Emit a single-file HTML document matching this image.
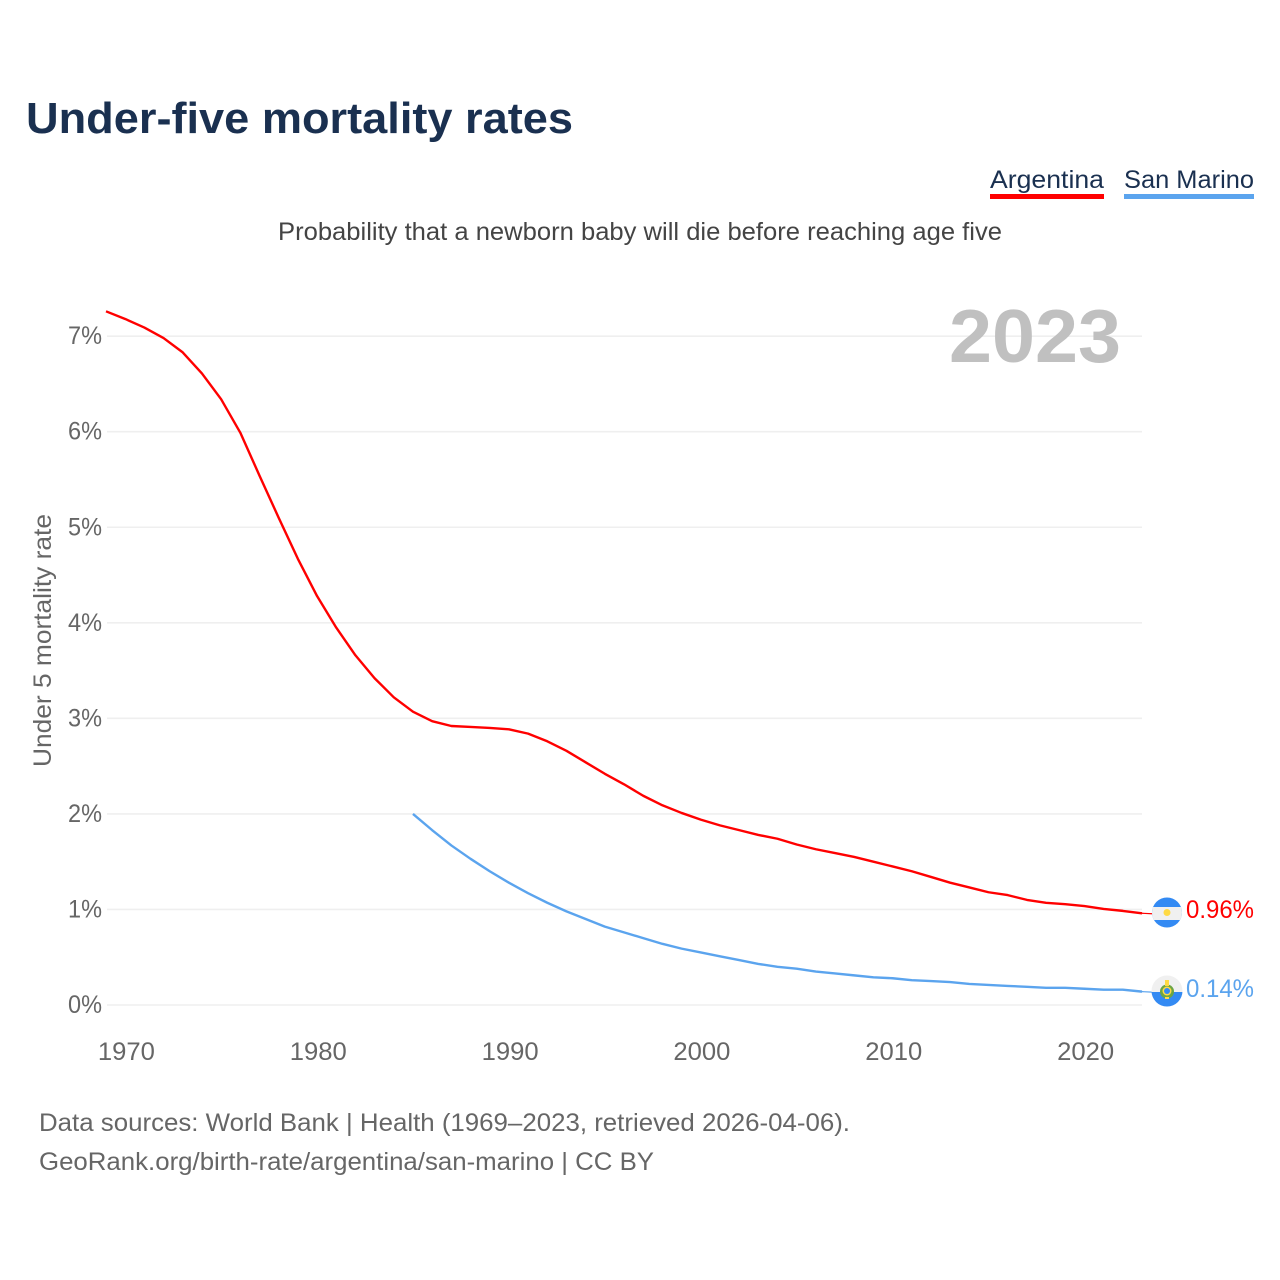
<!DOCTYPE html>
<html>
<head>
<meta charset="utf-8">
<title>Under-five mortality rates</title>
<style>
html,body{margin:0;padding:0;background:#fff;}
svg{display:block;font-family:"Liberation Sans",sans-serif;}
</style>
</head>
<body>
<svg id="chart" width="1280" height="1280" viewBox="0 0 1280 1280" xmlns="http://www.w3.org/2000/svg">
<text x="26" y="133" font-size="44" font-weight="700" fill="#1a3050" textLength="547" lengthAdjust="spacingAndGlyphs">Under-five mortality rates</text>
<text x="990" y="188" font-size="25" fill="#1a3050" textLength="114" lengthAdjust="spacingAndGlyphs">Argentina</text>
<rect x="990" y="194" width="114" height="5" fill="#ff0000"/>
<text x="1124" y="188" font-size="25" fill="#1a3050" textLength="130" lengthAdjust="spacingAndGlyphs">San Marino</text>
<rect x="1124" y="194" width="130" height="5" fill="#5ba4ee"/>
<text x="278" y="240" font-size="25" fill="#444444" textLength="724" lengthAdjust="spacingAndGlyphs">Probability that a newborn baby will die before reaching age five</text>
<g id="grid"></g>
<text x="1121" y="362" font-size="75" font-weight="700" fill="#c0c0c0" text-anchor="end" textLength="172" lengthAdjust="spacingAndGlyphs">2023</text>
<g id="yticks"></g>
<g id="xticks"></g>
<text transform="translate(51,767) rotate(-90)" x="0" y="0" font-size="25" fill="#666666" textLength="253" lengthAdjust="spacingAndGlyphs">Under 5 mortality rate</text>
<g id="series"></g>
<g>
<clipPath id="clipA"><circle cx="1167" cy="912.5" r="15"/></clipPath>
<g clip-path="url(#clipA)">
<rect x="1150" y="896" width="34" height="34" fill="#338af3"/>
<rect x="1150" y="907" width="34" height="13" fill="#f0f0f0"/>
<circle cx="1167" cy="912.5" r="3.5" fill="#ffda44"/>
</g>
</g>
<g>
<clipPath id="clipS"><circle cx="1167" cy="991" r="15.5"/></clipPath>
<g clip-path="url(#clipS)">
<rect x="1150" y="974" width="34" height="18" fill="#f0f0f0"/>
<rect x="1150" y="992" width="34" height="16" fill="#338af3"/>
<circle cx="1167" cy="991.5" r="7" fill="#6da544"/>
<circle cx="1167" cy="991" r="4.5" fill="#ffda44"/>
<circle cx="1167" cy="991" r="3" fill="#338af3"/>
<rect x="1165" y="980" width="4" height="6" fill="#ffda44"/>
<rect x="1165" y="997" width="4" height="2" fill="#ffda44"/>
</g>
</g>
<text id="val-a" x="1254" y="918" font-size="25" fill="#ff0000" text-anchor="end" textLength="68" lengthAdjust="spacingAndGlyphs">0.96%</text>
<text id="val-s" x="1254" y="997" font-size="25" fill="#5ba4ee" text-anchor="end" textLength="68" lengthAdjust="spacingAndGlyphs">0.14%</text>
<text x="39" y="1131" font-size="25" fill="#666666" textLength="811" lengthAdjust="spacingAndGlyphs">Data sources: World Bank | Health (1969–2023, retrieved 2026-04-06).</text>
<text x="39" y="1170" font-size="25" fill="#666666" textLength="615" lengthAdjust="spacingAndGlyphs">GeoRank.org/birth-rate/argentina/san-marino | CC BY</text>
</svg>
<script>
const argentinaStartYear = 1969;
const argentinaValues = [7.26,7.18,7.09,6.98,6.83,6.61,6.34,5.99,5.54,5.10,4.67,4.28,3.95,3.66,3.42,3.22,3.07,2.97,2.92,2.91,2.90,2.885,2.84,2.76,2.66,2.54,2.42,2.31,2.19,2.09,2.01,1.94,1.88,1.83,1.78,1.74,1.68,1.63,1.59,1.55,1.50,1.45,1.40,1.34,1.28,1.23,1.18,1.15,1.10,1.07,1.055,1.035,1.005,0.985,0.96];
const sanMarinoStartYear = 1985;
const sanMarinoValues = [2.00,1.83,1.67,1.53,1.40,1.28,1.17,1.07,0.98,0.90,0.82,0.76,0.70,0.64,0.59,0.55,0.51,0.47,0.43,0.40,0.38,0.35,0.33,0.31,0.29,0.28,0.26,0.25,0.24,0.22,0.21,0.20,0.19,0.18,0.18,0.17,0.16,0.16,0.14];
const yTickValues = [0,1,2,3,4,5,6,7];
const xTickYears = [1970,1980,1990,2000,2010,2020];

const NS = 'http://www.w3.org/2000/svg';
function xScale(year){ return 106 + (year - 1969) * (1142 - 106) / 54; }
function yScale(v){ return 1005 - v * 95.55; }

function make(tag, attrs, text){
  const el = document.createElementNS(NS, tag);
  for (const k in attrs) el.setAttribute(k, attrs[k]);
  if (text !== undefined) el.textContent = text;
  return el;
}

const grid = document.getElementById('grid');
const yticks = document.getElementById('yticks');
yTickValues.forEach(function(v){
  const line = make('line', {x1:107, x2:1142, y1:yScale(v), y2:yScale(v), stroke:'#efefef', 'stroke-width':1.6});
  
  
  grid.appendChild(line);
  const label = make('text', {x:102, y:yScale(v)+8, 'font-size':25, fill:'#666666', 'text-anchor':'end', textLength:34, lengthAdjust:'spacingAndGlyphs'}, v + '%');
  
  
  yticks.appendChild(label);
});

const xticks = document.getElementById('xticks');
xTickYears.forEach(function(year){
  const label = make('text', {x:xScale(year)+1.2, y:1060, 'font-size':25, fill:'#666666', 'text-anchor':'middle', textLength:57, lengthAdjust:'spacingAndGlyphs'}, String(year));
  
  
  xticks.appendChild(label);
});

function linePath(startYear, values){
  return values.map(function(v, i){
    return (i ? 'L' : 'M') + xScale(startYear + i).toFixed(2) + ' ' + yScale(v).toFixed(2);
  }).join(' ');
}

const seriesGroup = document.getElementById('series');

const lineA = make('path', {d:linePath(argentinaStartYear, argentinaValues), fill:'none', stroke:'#ff0000', 'stroke-width':2.4, 'stroke-linejoin':'round'});


seriesGroup.appendChild(lineA);

const lineS = make('path', {d:linePath(sanMarinoStartYear, sanMarinoValues), fill:'none', stroke:'#5ba4ee', 'stroke-width':2.4, 'stroke-linejoin':'round'});


seriesGroup.appendChild(lineS);

const lastA = argentinaValues[argentinaValues.length - 1];
const lastS = sanMarinoValues[sanMarinoValues.length - 1];
const leadA = make('line', {x1:xScale(2023), x2:1152, y1:yScale(lastA), y2:yScale(lastA)+0.5, stroke:'#ff0000', 'stroke-width':1.2});


seriesGroup.appendChild(leadA);
const leadS = make('line', {x1:xScale(2023), x2:1152, y1:yScale(lastS), y2:yScale(lastS)+0.5, stroke:'#5ba4ee', 'stroke-width':1.2});


seriesGroup.appendChild(leadS);

document.getElementById('val-a').textContent = lastA.toFixed(2) + '%';
document.getElementById('val-s').textContent = lastS.toFixed(2) + '%';
</script>
</body>
</html>
